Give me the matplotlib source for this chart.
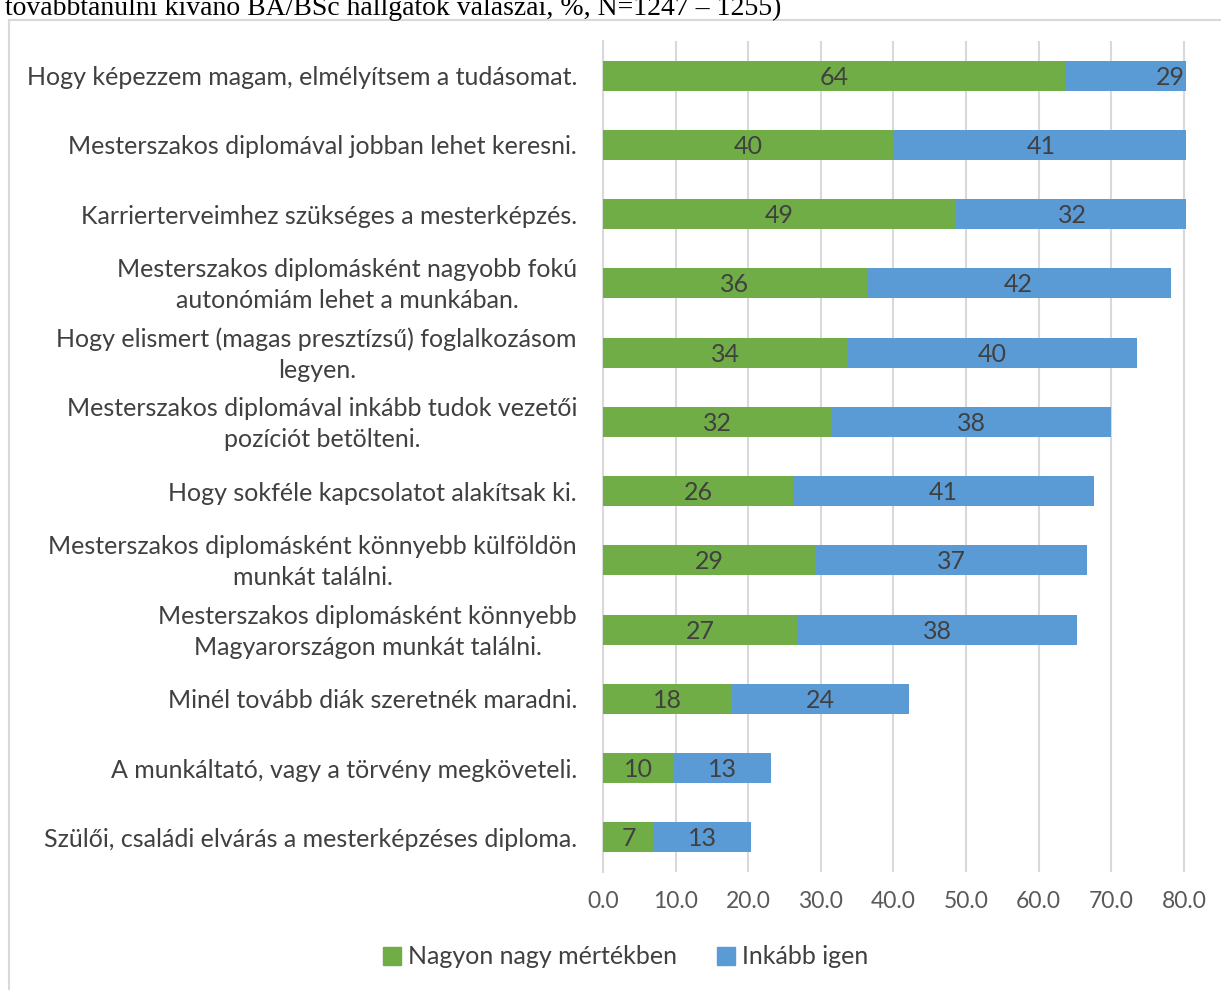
import matplotlib
matplotlib.use("Agg")
import matplotlib.pyplot as plt
from matplotlib.patches import Patch
from matplotlib.lines import Line2D

categories = [
    "Hogy képezzem magam, elmélyítsem a tudásomat.",
    "Mesterszakos diplomával jobban lehet keresni.",
    "Karrierterveimhez szükséges a mesterképzés.",
    "Mesterszakos diplomásként nagyobb fokú\nautonómiám lehet a munkában.",
    "Hogy elismert (magas presztízsű) foglalkozásom\nlegyen.",
    "Mesterszakos diplomával inkább tudok vezetői\npozíciót betölteni.",
    "Hogy sokféle kapcsolatot alakítsak ki.",
    "Mesterszakos diplomásként könnyebb külföldön\nmunkát találni.",
    "Mesterszakos diplomásként könnyebb\nMagyarországon munkát találni.",
    "Minél tovább diák szeretnék maradni.",
    "A munkáltató, vagy a törvény megköveteli.",
    "Szülői, családi elvárás a mesterképzéses diploma.",
]
nagyon = [63.6, 39.9, 48.6, 36.3, 33.6, 31.6, 26.2, 29.3, 26.9, 17.7, 9.8, 7.0]
inkabb = [29.2, 41.0, 32.2, 41.9, 39.9, 38.4, 41.4, 37.4, 38.4, 24.4, 13.4, 13.4]
xticks = [0, 10, 20, 30, 40, 50, 60, 70, 80]
series_names = ["Nagyon nagy mértékben", "Inkább igen"]

GREEN = "#70AD47"
BLUE = "#5B9BD5"
GRID = "#D9D9D9"
TXT = "#404040"
TICK = "#595959"
FONT = "Lato"

W, H = 1221, 990
fig = plt.figure(figsize=(W / 100, H / 100), dpi=100)

# cropped caption at top (cut off in the reference too)
fig.text(5 / W, 1 - 15 / H, "továbbtanulni kívánó BA/BSc hallgatók válaszai, %, N=1247 – 1255)",
         fontsize=20, family="Liberation Serif", color="black", ha="left", va="baseline")

# chart frame (partially cropped)
fig.add_artist(Line2D([9 / W, 1.0], [1 - 20 / H, 1 - 20 / H], transform=fig.transFigure, color=GRID, lw=1.5))
fig.add_artist(Line2D([9 / W, 9 / W], [0, 1 - 20 / H], transform=fig.transFigure, color=GRID, lw=1.5))

ax_left = 603 / W
ax_right = 1186 / W
ax_top = 1 - 41 / H
ax_bottom = 1 - 872 / H
ax = fig.add_axes([ax_left, ax_bottom, ax_right - ax_left, ax_top - ax_bottom])

n = len(categories)
ypos = list(range(n))
bh = 0.43
ax.barh(ypos, nagyon, height=bh, color=GREEN, label=series_names[0], zorder=3)
ax.barh(ypos, inkabb, left=nagyon, height=bh, color=BLUE, label=series_names[1], zorder=3)

for i in range(n):
    g, b = nagyon[i], inkabb[i]
    ax.text(g / 2, i + 0.02, f"{round(g):d}", ha="center", va="center", fontsize=18,
            color=TXT, family=FONT, zorder=4)
    ax.text(g + b / 2, i + 0.02, f"{round(b):d}", ha="center", va="center", fontsize=18,
            color=TXT, family=FONT, zorder=4)

ax.set_xlim(0, 80.3)
ax.set_ylim(n - 0.5, -0.5)
ax.set_xticks(xticks)
ax.set_xticklabels([f"{t:.1f}" for t in xticks], fontsize=16.5, color=TICK, family=FONT)
ax.tick_params(axis="x", length=0, pad=14)
ax.set_yticks(ypos)
ax.set_yticklabels([])
ax.tick_params(axis="y", length=0)
ax.xaxis.grid(True, color=GRID, lw=1.5, zorder=0)
for s in ["top", "right", "bottom"]:
    ax.spines[s].set_visible(False)
ax.spines["left"].set_color(GRID)
ax.spines["left"].set_linewidth(1.5)

for i, c in enumerate(categories):
    ax.text(-26 / 7.26, i + 0.03, c, ha="right", va="center", multialignment="center",
            fontsize=18, color=TXT, family=FONT, linespacing=1.42,
            transform=ax.transData)

handles = [Patch(color=GREEN), Patch(color=BLUE)]
fig.legend(handles, series_names, loc="center", bbox_to_anchor=(626 / W, 1 - 957 / H),
           ncol=2, frameon=False, prop={"family": FONT, "size": 18},
           handlelength=0.7, handleheight=0.7, handletextpad=0.3, columnspacing=1.6,
           labelcolor=TXT)

fig.savefig("out.png", dpi=100)
